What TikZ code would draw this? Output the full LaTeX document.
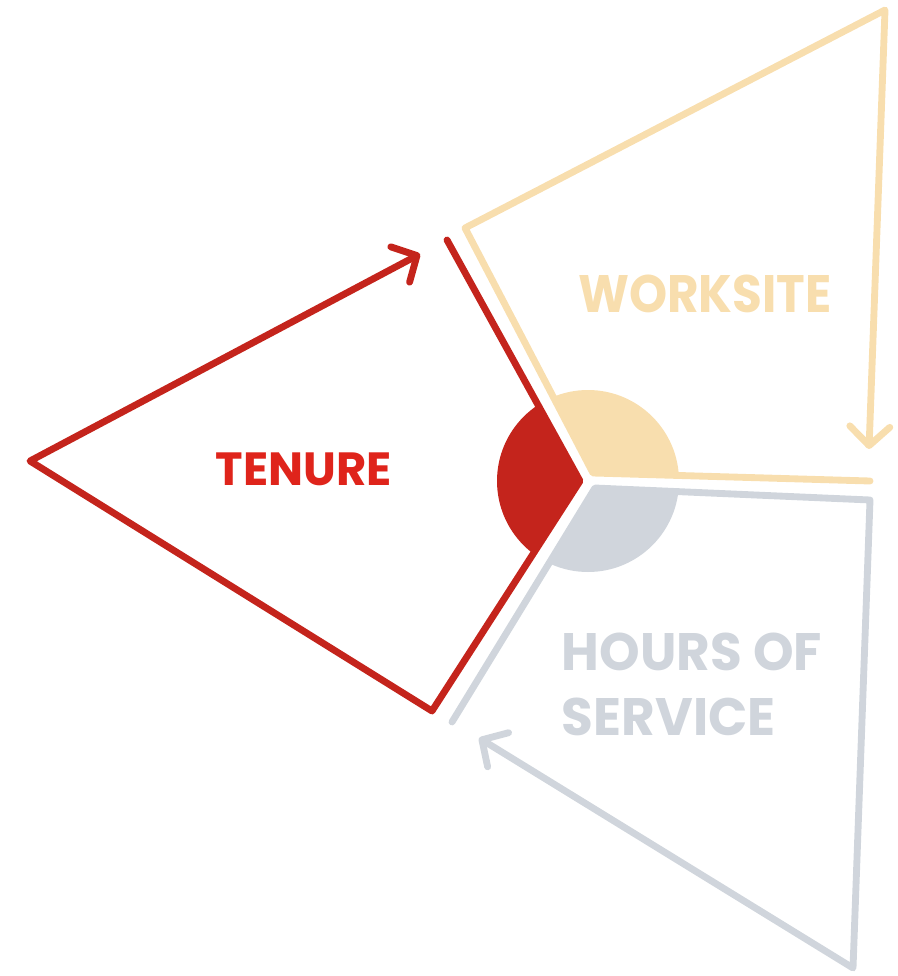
\documentclass[tikz,border=0pt]{standalone}
\usepackage{fontspec}
\setmainfont{Poppins}
\usetikzlibrary{arrows.meta}

\definecolor{tenurered}{HTML}{C4241C}
\definecolor{tenuretext}{HTML}{DF241B}
\definecolor{siteyellow}{HTML}{F8DEAE}
\definecolor{hoursgray}{HTML}{D0D5DC}

\begin{document}
\begin{tikzpicture}[
  x=0.02cm, y=-0.02cm,
  edge/.style={line width=3.9pt, line cap=round, line join=round},
  arr/.style={edge, -{Straight Barb[length=3.8mm, width=8mm, round]}},
  lbl/.style={font=\bfseries\fontsize{30}{37}\selectfont, align=left, inner sep=0pt}
]
  \useasboundingbox (0,0) rectangle (897,976);

  % hub of the three sectors
  \coordinate (hub) at (588,481);

  % tenure corners
  \coordinate (rt) at (447,240);
  \coordinate (rh) at (580,481);
  \coordinate (rb) at (432,711);
  \coordinate (rl) at (30,461);
  \coordinate (ra) at (420,254);

  % worksite corners
  \coordinate (yt) at (465,228);
  \coordinate (yc) at (885,10);
  \coordinate (ya) at (869,449);
  \coordinate (yh) at (593,473);
  \coordinate (ye) at (870,481);

  % hours of service corners
  \coordinate (gh) at (595,488);
  \coordinate (gc) at (870,500);
  \coordinate (gb) at (853,968);
  \coordinate (ga) at (479,738);
  \coordinate (ge) at (452,722);

  % circle pieces
  \begin{scope}
    \clip (rt) -- (rh) -- (rb) -- (rl) -- cycle;
    \fill[tenurered] (hub) circle (91);
  \end{scope}
  \begin{scope}
    \clip (yt) -- (yc) -- (ye) -- (yh) -- cycle;
    \fill[siteyellow] (hub) circle (91);
  \end{scope}
  \begin{scope}
    \clip (gh) -- (gc) -- (gb) -- (ge) -- cycle;
    \fill[hoursgray] (hub) circle (91);
  \end{scope}

  % outlines
  \draw[arr, tenurered] (rt) -- (rh) -- (rb) -- (rl) -- (ra);
  \draw[arr, siteyellow] (ye) -- (yh) -- (yt) -- (yc) -- (ya);
  \draw[arr, hoursgray] (ge) -- (gh) -- (gc) -- (gb) -- (ga);

  % labels
  \node[lbl, text=tenuretext, font=\bfseries\fontsize{26.5}{30}\selectfont] (tenure) at (304,469) {TENURE};
  \node[lbl, text=siteyellow, xscale=0.92] (worksite) at (705,294) {WORKSITE};
  \node[lbl, text=hoursgray, xscale=0.98] (hours) at (692,684) {HOURS OF\\SERVICE};
\end{tikzpicture}
\end{document}
